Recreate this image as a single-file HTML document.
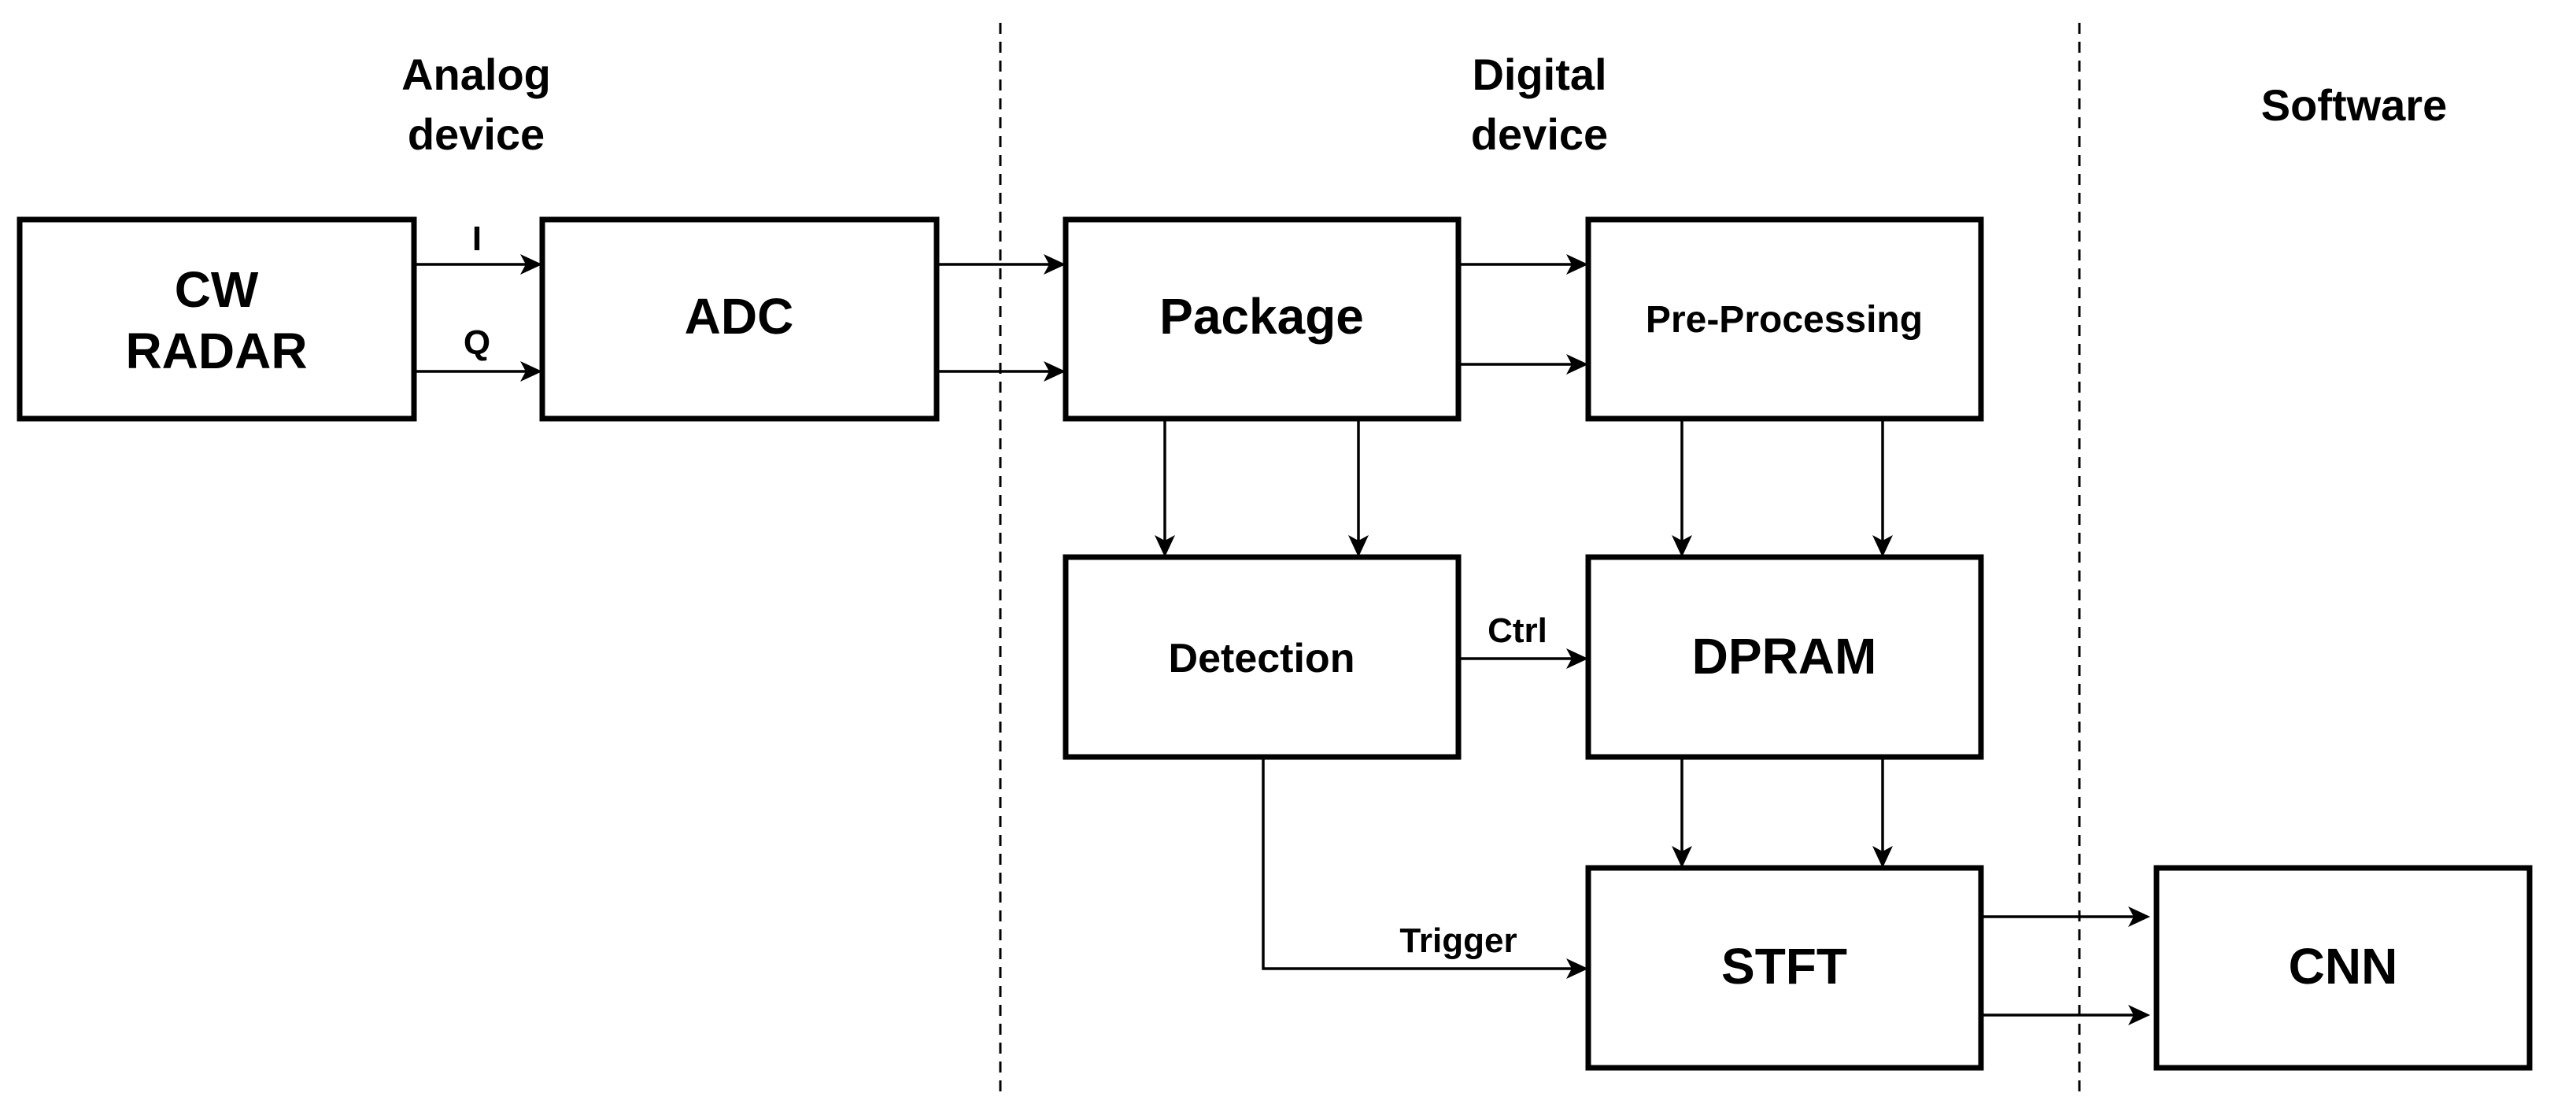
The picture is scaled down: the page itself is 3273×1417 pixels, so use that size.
<!DOCTYPE html>
<html><head><meta charset="utf-8"><style>
html,body{margin:0;padding:0;background:#fff}
svg{display:block}
text{font-family:"Liberation Sans",Arial,sans-serif;font-weight:bold;fill:#000}
</style></head><body>
<svg width="3273" height="1417" viewBox="0 0 3273 1417" xmlns="http://www.w3.org/2000/svg">
<defs>
<marker id="a" markerWidth="10" markerHeight="10" refX="9" refY="5" orient="auto" markerUnits="userSpaceOnUse" viewBox="0 0 10 10">
</marker>
</defs>
<g stroke="#000" stroke-width="3" stroke-dasharray="14,10">
<line x1="1271" y1="29" x2="1271" y2="1394"/>
<line x1="2642" y1="29" x2="2642" y2="1394"/>
</g>
<g fill="none" stroke="#000" stroke-width="7">
<rect x="25" y="279" width="501" height="253"/>
<rect x="689" y="279" width="501" height="253"/>
<rect x="1354" y="279" width="499" height="253"/>
<rect x="2018" y="279" width="499" height="253"/>
<rect x="1354" y="708" width="499" height="254"/>
<rect x="2018" y="708" width="499" height="254"/>
<rect x="2018" y="1103" width="499" height="254"/>
<rect x="2740" y="1103" width="474" height="254"/>
</g>
<g stroke="#000" stroke-width="3.5" fill="none">
<line x1="526" y1="336" x2="680" y2="336"/>
<line x1="526" y1="472" x2="680" y2="472"/>
<line x1="1190" y1="336" x2="1344" y2="336"/>
<line x1="1190" y1="472" x2="1344" y2="472"/>
<line x1="1853" y1="336" x2="2008" y2="336"/>
<line x1="1853" y1="463" x2="2008" y2="463"/>
<line x1="1480" y1="532" x2="1480" y2="698"/>
<line x1="1726" y1="532" x2="1726" y2="698"/>
<line x1="2137" y1="532" x2="2137" y2="698"/>
<line x1="2392" y1="532" x2="2392" y2="698"/>
<line x1="1853" y1="837" x2="2008" y2="837"/>
<line x1="2137" y1="962" x2="2137" y2="1093"/>
<line x1="2392" y1="962" x2="2392" y2="1093"/>
<polyline points="1605,962 1605,1231 2008,1231"/>
<line x1="2517" y1="1165" x2="2722" y2="1165"/>
<line x1="2517" y1="1290" x2="2722" y2="1290"/>
</g>
<g fill="#000">
<polygon points="689,336 661,323 668,336 661,349"/>
<polygon points="689,472 661,459 668,472 661,485"/>
<polygon points="1354,336 1326,323 1333,336 1326,349"/>
<polygon points="1354,472 1326,459 1333,472 1326,485"/>
<polygon points="2018,336 1990,323 1997,336 1990,349"/>
<polygon points="2018,463 1990,450 1997,463 1990,476"/>
<polygon points="2018,837 1990,824 1997,837 1990,850"/>
<polygon points="2018,1231 1990,1218 1997,1231 1990,1244"/>
<polygon points="2732,1165 2704,1152 2711,1165 2704,1178"/>
<polygon points="2732,1290 2704,1277 2711,1290 2704,1303"/>
<polygon points="1480,708 1467,680 1480,687 1493,680"/>
<polygon points="1726,708 1713,680 1726,687 1739,680"/>
<polygon points="2137,708 2124,680 2137,687 2150,680"/>
<polygon points="2392,708 2379,680 2392,687 2405,680"/>
<polygon points="2137,1103 2124,1075 2137,1082 2150,1075"/>
<polygon points="2392,1103 2379,1075 2392,1082 2405,1075"/>
</g>
<g text-anchor="middle">
<text x="605" y="114" font-size="56">Analog</text>
<text x="605" y="190" font-size="56">device</text>
<text x="1956" y="114" font-size="56">Digital</text>
<text x="1956" y="190" font-size="56">device</text>
<text x="2991" y="153" font-size="56">Software</text>
<text x="275" y="390" font-size="64">CW</text>
<text x="275" y="468" font-size="64">RADAR</text>
<text x="939" y="424" font-size="64">ADC</text>
<text x="1603" y="424" font-size="64">Package</text>
<text x="2267" y="422" font-size="48">Pre-Processing</text>
<text x="1603" y="854" font-size="52">Detection</text>
<text x="2267" y="856" font-size="64">DPRAM</text>
<text x="2267" y="1250" font-size="64">STFT</text>
<text x="2977" y="1250" font-size="64">CNN</text>
<text x="606" y="318" font-size="44">I</text>
<text x="606" y="450" font-size="44">Q</text>
<text x="1928" y="816" font-size="44">Ctrl</text>
<text x="1853" y="1210" font-size="44">Trigger</text>
</g>
</svg>
</body></html>
